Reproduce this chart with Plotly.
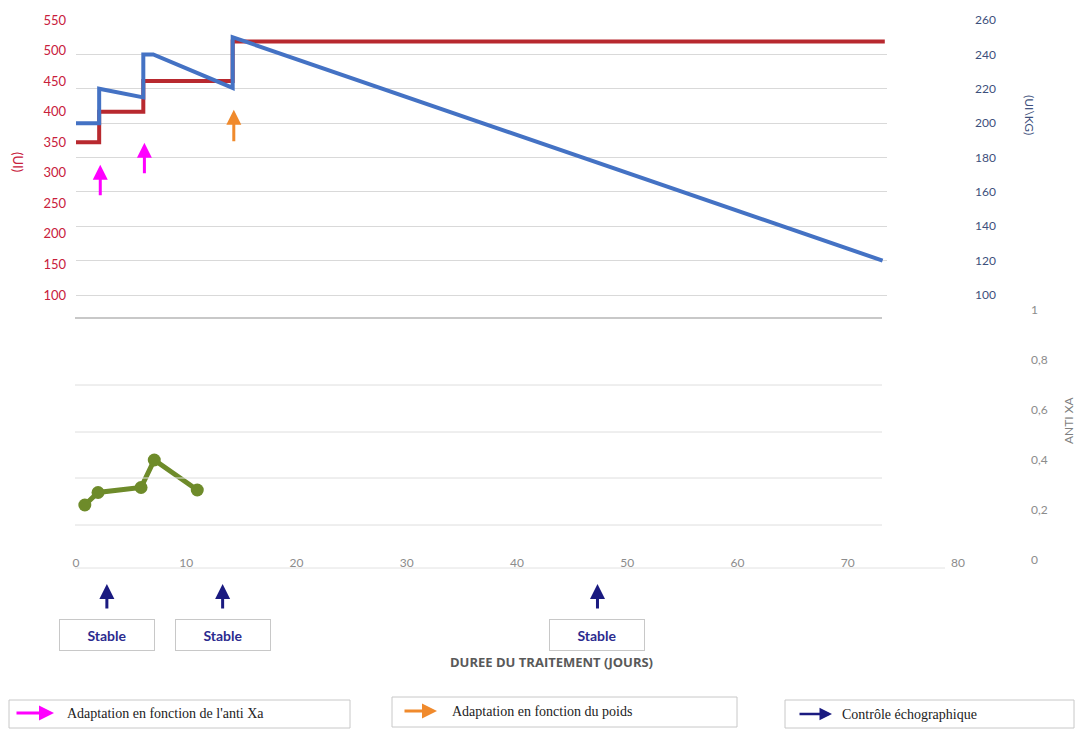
import plotly.graph_objects as go

W, H = 1085, 730
OFF = 8  # page body margin of the viewer

# ---------------- data ----------------
dose_days = [0, 2.1, 2.1, 6.1, 6.1, 14.2, 14.2, 73.3]
dose_ui = [350, 350, 400, 400, 450, 450, 515, 515]

dosekg_days = [0, 2.1, 2.1, 6.1, 6.1, 7.0, 14.2, 14.2, 73.1]
dose_uikg = [200, 200, 220, 215, 240, 240, 220.5, 250, 120]

antixa_days = [0.8, 2.0, 5.9, 7.1, 11.0]
antixa_vals = [0.22, 0.27, 0.29, 0.40, 0.28]

antixa_adapt_days = [2.2, 6.2]
antixa_adapt_heads = [313, 349]
weight_adapt_days = [14.3]
weight_adapt_heads = [403]
echo_days = [2.8, 13.3, 47.3]
echo_labels = ["Stable", "Stable", "Stable"]

left_ticks = [100, 150, 200, 250, 300, 350, 400, 450, 500, 550]
right_ticks = [100, 120, 140, 160, 180, 200, 220, 240, 260]
axa_ticks = [0, 0.2, 0.4, 0.6, 0.8, 1]
axa_ticktext = ["0", "0,2", "0,4", "0,6", "0,8", "1"]
x_ticks = [0, 10, 20, 30, 40, 50, 60, 70, 80]

legend_items = ["Adaptation en fonction de l'anti Xa",
                "Adaptation en fonction du poids",
                "Contrôle échographique"]
legend_colors = ["#ff00ff", "#f08a2c", "#1a1a80"]

RED = "#b8292f"
BLUE = "#4472c4"
GREEN = "#6e8b2a"
NAVY = "#1a1a80"


def px(x):
    return (x - OFF) / W


def py(y):
    return 1 - (y - OFF) / H


fig = go.Figure()

fig.add_trace(go.Scatter(x=dose_days, y=dose_ui, mode="lines",
                         line=dict(color=RED, width=4), xaxis="x2", yaxis="y2",
                         showlegend=False))
fig.add_trace(go.Scatter(x=dosekg_days, y=dose_uikg, mode="lines",
                         line=dict(color=BLUE, width=4), xaxis="x2", yaxis="y3",
                         showlegend=False))
fig.add_trace(go.Scatter(x=antixa_days, y=antixa_vals, mode="lines+markers",
                         line=dict(color=GREEN, width=5),
                         marker=dict(color=GREEN, size=13),
                         xaxis="x", yaxis="y", showlegend=False))

tickfont = dict(family="Lato, Open Sans, sans-serif", size=12)

fig.update_layout(
    width=W, height=H,
    margin=dict(l=0, r=0, t=0, b=0, pad=0),
    paper_bgcolor="white", plot_bgcolor="rgba(0,0,0,0)",
    showlegend=False,
    xaxis=dict(domain=[px(76), px(958)], range=[0, 80], anchor="free",
               position=py(554), automargin=False,
               tickvals=x_ticks, ticks="",
               tickfont=dict(tickfont, color="#8c8c8c"),
               showgrid=False, zeroline=False, showline=False),
    yaxis=dict(domain=[py(570), py(300)], range=[-0.04, 1.04],
               anchor="free", position=px(1030), side="right", automargin=False,
               tickvals=axa_ticks, ticktext=axa_ticktext, ticks="",
               tickfont=dict(tickfont, color="#8c8c8c"),
               showgrid=False, zeroline=False, showline=False),
    xaxis2=dict(domain=[px(76), px(887)], range=[0, 73.5], anchor="y2",
                visible=False, automargin=False),
    yaxis2=dict(domain=[py(318), py(20)], range=[62.36, 550],
                anchor="free", position=px(66), side="left", automargin=False,
                tickvals=left_ticks, ticks="",
                tickfont=dict(tickfont, color="#c8203c", size=13),
                showgrid=False, zeroline=False, showline=False),
    yaxis3=dict(overlaying="y2", range=[86.62, 260],
                anchor="free", position=px(974), side="right", automargin=False,
                tickvals=right_ticks, ticks="",
                tickfont=dict(tickfont, color="#3d4f7c"),
                showgrid=True, gridcolor="#d9d9d9", gridwidth=1,
                zeroline=False, showline=False),
)

shapes = []
# separator between the two charts and light grid of lower chart
shapes.append(dict(type="line", xref="paper", yref="paper",
                   x0=px(75), x1=px(882), y0=py(318), y1=py(318),
                   line=dict(color="#c8c8c8", width=2)))
for gy in [385, 432, 478, 525]:
    shapes.append(dict(type="line", xref="paper", yref="paper",
                       x0=px(75), x1=px(882), y0=py(gy), y1=py(gy),
                       line=dict(color="#dedede", width=1)))
shapes.append(dict(type="line", xref="paper", yref="paper",
                   x0=px(75), x1=px(945), y0=py(568), y1=py(568),
                   line=dict(color="#e2e2e2", width=1), layer="below"))
# legend boxes
legend_boxes = [(9, 350, 700, 728), (392, 737, 697, 727), (785, 1074, 700, 728)]
for (x0, x1, y0, y1) in legend_boxes:
    shapes.append(dict(type="rect", xref="paper", yref="paper",
                       x0=px(x0), x1=px(x1), y0=py(y1), y1=py(y0),
                       line=dict(color="#c8c8c8", width=1), fillcolor="white",
                       layer="below"))
fig.update_layout(shapes=shapes)

ann = []
C = dict(xanchor="center", yanchor="middle")
# axis titles
ann.append(dict(text="(UI)", x=px(18), y=py(162), xref="paper", yref="paper",
                showarrow=False, textangle=90, **C,
                font=dict(family="Lato, sans-serif", size=13, color="#c8203c")))
ann.append(dict(text="(UI\\KG)", x=px(1030), y=py(115), xref="paper", yref="paper",
                showarrow=False, textangle=90, **C,
                font=dict(family="Lato, sans-serif", size=12, color="#3d4f7c")))
ann.append(dict(text="ANTI XA", x=px(1068), y=py(420), xref="paper", yref="paper",
                showarrow=False, textangle=-90, **C,
                font=dict(family="Lato, sans-serif", size=12, color="#7f7f7f")))
ann.append(dict(text="<b>DUREE DU TRAITEMENT (JOURS)</b>", x=px(551), y=py(662),
                xref="paper", yref="paper", showarrow=False, **C,
                font=dict(family="Open Sans, sans-serif", size=13, color="#595959")))

# adaptation arrows in the upper chart
for d, h in zip(antixa_adapt_days, antixa_adapt_heads):
    ann.append(dict(text="", x=d, y=h, xref="x2", yref="y2", showarrow=True,
                    ax=0, ay=32, arrowhead=2, arrowsize=1, arrowwidth=3,
                    arrowcolor="#ff00ff"))
for d, h in zip(weight_adapt_days, weight_adapt_heads):
    ann.append(dict(text="", x=d, y=h, xref="x2", yref="y2", showarrow=True,
                    ax=0, ay=33, arrowhead=2, arrowsize=1, arrowwidth=3,
                    arrowcolor="#f08a2c"))

# echo controls
for d, lab in zip(echo_days, echo_labels):
    ann.append(dict(text="", x=d, y=py(584), xref="x", yref="paper",
                    showarrow=True, ax=0, ay=26, arrowhead=2, arrowsize=1,
                    arrowwidth=3, arrowcolor=NAVY))
    ann.append(dict(text="<b>" + lab + "</b>", x=d, y=py(635), xref="x", yref="paper",
                    showarrow=False, width=92, height=28, **C,
                    bordercolor="#c8c8c8", borderwidth=1, borderpad=1,
                    bgcolor="white",
                    font=dict(family="Lato, sans-serif", size=14, color="#2b2b8f")))

# legend texts and arrows
leg_text_x = [65, 450, 840]
leg_arrow = [(15, 54, 713), (403, 437, 711), (798, 832, 714)]
for t, c, tx, (a0, a1, ay_) in zip(legend_items, legend_colors, leg_text_x, leg_arrow):
    ann.append(dict(text=t, x=px(tx), y=py(ay_), xref="paper", yref="paper",
                    xanchor="left", yanchor="middle", showarrow=False,
                    font=dict(family="Liberation Serif, serif", size=14, color="#222222")))
    ann.append(dict(text="", x=px(a1), y=py(ay_), xref="paper", yref="paper",
                    showarrow=True, ax=-(a1 - a0), ay=0, arrowhead=2, arrowsize=1,
                    arrowwidth=3 if c != NAVY else 2.5, arrowcolor=c))

fig.update_layout(annotations=ann)

fig.write_html("out.html")
